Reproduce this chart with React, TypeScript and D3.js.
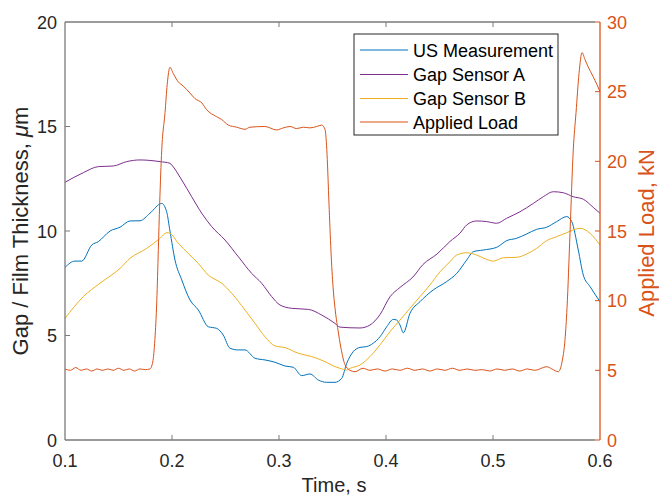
import React from "react";
import * as d3 from "d3";

// ---------- data ----------
const usMeasurement: [number, number][] = [
  [0.1, 8.26], [0.1093, 8.56], [0.1156, 8.56], [0.125, 9.33], [0.1311, 9.49], [0.1421, 10.0],
  [0.1514, 10.18], [0.1607, 10.48], [0.1701, 10.49], [0.1794, 10.85], [0.1904, 11.32], [0.195, 10.92],
  [0.1981, 10.0], [0.2028, 8.61], [0.2091, 7.66], [0.2168, 6.7], [0.2246, 6.22], [0.2339, 5.42],
  [0.2418, 5.34], [0.2479, 5.02], [0.2542, 4.39], [0.262, 4.31], [0.2682, 4.31], [0.2776, 3.91],
  [0.2869, 3.83], [0.2963, 3.72], [0.3056, 3.54], [0.3134, 3.48], [0.3212, 3.08], [0.329, 3.16],
  [0.3367, 2.87], [0.3446, 2.76], [0.3523, 2.76], [0.3586, 2.95], [0.3633, 3.67], [0.3694, 4.23],
  [0.3757, 4.43], [0.382, 4.47], [0.3881, 4.63], [0.3944, 4.94], [0.4007, 5.42], [0.4068, 5.77],
  [0.41, 5.74], [0.4131, 5.5], [0.4162, 5.13], [0.4224, 6.06], [0.4318, 6.62], [0.4442, 7.18],
  [0.4567, 7.58], [0.4661, 7.97], [0.4754, 8.61], [0.4816, 9.01], [0.4909, 9.09], [0.5035, 9.22],
  [0.5128, 9.54], [0.5221, 9.65], [0.5315, 9.86], [0.5408, 10.08], [0.5502, 10.18], [0.5595, 10.45],
  [0.5689, 10.69], [0.5736, 10.45], [0.5797, 9.09], [0.5844, 7.89], [0.5907, 7.34], [0.6, 6.62],
];

const gapSensorA: [number, number][] = [
  [0.1, 12.33], [0.1171, 12.79], [0.1311, 13.08], [0.1451, 13.11], [0.1577, 13.32], [0.1701, 13.4],
  [0.1888, 13.32], [0.1981, 13.24], [0.1997, 13.16], [0.2091, 12.44], [0.2184, 11.64], [0.2278, 10.85],
  [0.2371, 10.21], [0.2495, 9.57], [0.262, 8.77], [0.2745, 7.97], [0.2838, 7.5], [0.2932, 6.86],
  [0.3009, 6.46], [0.3119, 6.3], [0.3274, 6.25], [0.3399, 5.98], [0.3523, 5.58], [0.357, 5.4],
  [0.3757, 5.36], [0.385, 5.5], [0.3944, 6.0], [0.4037, 6.85], [0.4131, 7.3], [0.4252, 7.8],
  [0.4346, 8.4], [0.4477, 8.9], [0.4598, 9.5], [0.4692, 9.9], [0.4754, 10.29], [0.4848, 10.48],
  [0.4941, 10.45], [0.5035, 10.37], [0.5128, 10.61], [0.5252, 10.92], [0.5377, 11.32], [0.547, 11.64],
  [0.5564, 11.88], [0.5657, 11.83], [0.575, 11.64], [0.5844, 11.52], [0.5937, 11.13], [0.6, 10.85],
];

const gapSensorB: [number, number][] = [
  [0.1, 5.82], [0.1171, 6.86], [0.1327, 7.5], [0.1514, 8.21], [0.1607, 8.69], [0.1764, 9.17],
  [0.1888, 9.65], [0.195, 9.92], [0.1981, 9.89], [0.2059, 9.41], [0.2152, 8.93], [0.2246, 8.45],
  [0.2339, 7.89], [0.2464, 7.5], [0.2558, 7.02], [0.2682, 6.22], [0.2776, 5.58], [0.2869, 4.94],
  [0.2963, 4.5], [0.3056, 4.42], [0.318, 4.15], [0.3306, 3.99], [0.343, 3.75], [0.3523, 3.51],
  [0.357, 3.43], [0.3633, 3.35], [0.3664, 3.43], [0.3757, 3.59], [0.385, 3.99], [0.3944, 4.55],
  [0.4037, 5.18], [0.4131, 5.74], [0.4224, 6.3], [0.4318, 6.86], [0.4411, 7.42], [0.4505, 8.05],
  [0.4598, 8.53], [0.4661, 8.85], [0.4754, 8.96], [0.4848, 8.85], [0.4941, 8.64], [0.5003, 8.56],
  [0.5096, 8.72], [0.5221, 8.74], [0.5315, 8.9], [0.5408, 9.17], [0.5502, 9.54], [0.5595, 9.73],
  [0.5689, 9.92], [0.5813, 10.13], [0.5907, 9.89], [0.6, 9.33],
];

const appliedLoad: [number, number][] = [
  [0.1, 5.1], [0.105, 5.0], [0.11, 5.2], [0.115, 5.0], [0.12, 5.1], [0.125, 4.95], [0.13, 5.1],
  [0.135, 5.0], [0.14, 5.1], [0.145, 5.0], [0.15, 5.15], [0.155, 5.0], [0.16, 5.1], [0.165, 4.95],
  [0.17, 5.1], [0.175, 5.05], [0.1794, 5.1], [0.182, 5.6], [0.184, 7.2], [0.1858, 10], [0.1872, 13.6],
  [0.1885, 17], [0.1904, 20.8], [0.1935, 23.5], [0.1955, 25.5], [0.1981, 26.75], [0.2012, 26.3],
  [0.2059, 25.7], [0.2105, 25.4], [0.2168, 24.9], [0.2215, 24.5], [0.2278, 24.2], [0.2324, 23.7],
  [0.2418, 23.2], [0.2464, 23.0], [0.2527, 22.6], [0.2605, 22.45], [0.2682, 22.3], [0.2729, 22.45],
  [0.2868, 22.5], [0.2978, 22.25], [0.304, 22.4], [0.3103, 22.5], [0.3165, 22.35], [0.3228, 22.45],
  [0.329, 22.4], [0.3352, 22.5], [0.3399, 22.6], [0.343, 22.3], [0.3449, 20.5], [0.3467, 17],
  [0.3486, 13.5], [0.3505, 11], [0.3523, 9.5], [0.3551, 7.9], [0.3579, 6.6], [0.3617, 5.4],
  [0.3664, 5.0], [0.371, 4.9], [0.3785, 5.15], [0.385, 5.0], [0.392, 5.1], [0.399, 4.95],
  [0.406, 5.1], [0.413, 5.0], [0.42, 5.15], [0.427, 5.0], [0.434, 5.1], [0.441, 4.95], [0.448, 5.1],
  [0.455, 5.0], [0.462, 5.15], [0.469, 5.0], [0.476, 5.1], [0.483, 5.0], [0.49, 5.05], [0.497, 4.95],
  [0.504, 5.1], [0.511, 5.0], [0.518, 5.1], [0.525, 4.95], [0.532, 5.1], [0.539, 5.0], [0.5502, 5.26],
  [0.555, 5.1], [0.561, 4.9], [0.5645, 5.6], [0.5673, 7.2], [0.5692, 9.5], [0.572, 14.9], [0.575, 20.8],
  [0.5776, 23.5], [0.5804, 26.3], [0.5832, 27.8], [0.586, 27.3], [0.5888, 26.8], [0.5935, 26.1],
  [0.5972, 25.5], [0.6, 25.0],
];

const xTicks = [0.1, 0.2, 0.3, 0.4, 0.5, 0.6];
const yLeftTicks = [0, 5, 10, 15, 20];
const yRightTicks = [0, 5, 10, 15, 20, 25, 30];

const seriesNames = ["US Measurement", "Gap Sensor A", "Gap Sensor B", "Applied Load"];
const seriesColors = ["#0072BD", "#7E2F8E", "#EDB120", "#D95319"];

// ---------- layout ----------
const W = 659;
const H = 497;
const L = 65;
const R = 600;
const T = 22;
const B = 440;
const AXIS = "#262626";
const FRAME = "#7a7a7a";
const ORANGE = "#D95319";
const FONT = "'Liberation Sans', Arial, Helvetica, sans-serif";

export default function App() {
  const x = d3.scaleLinear().domain([0.1, 0.6]).range([L, R]);
  const yL = d3.scaleLinear().domain([0, 20]).range([B, T]);
  const yR = d3.scaleLinear().domain([0, 30]).range([B, T]);

  const lineL = d3
    .line<[number, number]>()
    .x((d) => x(d[0]))
    .y((d) => yL(d[1]))
    .curve(d3.curveMonotoneX);
  const lineR = d3
    .line<[number, number]>()
    .x((d) => x(d[0]))
    .y((d) => yR(d[1]))
    .curve(d3.curveMonotoneX);

  const tick = 5;
  const legX = 354;
  const legY = 34;
  const legW = 204;
  const legH = 101;
  const legRows = [50, 74.5, 98.5, 122];

  return (
    <svg
      width={W}
      height={H}
      style={{ position: "absolute", left: 0, top: 0, background: "#fff" }}
      fontFamily={FONT}
    >
      <rect x={0} y={0} width={W} height={H} fill="#fff" />
      {/* data lines */}
      <path d={lineL(usMeasurement) || ""} fill="none" stroke={seriesColors[0]} strokeWidth={1} />
      <path d={lineL(gapSensorA) || ""} fill="none" stroke={seriesColors[1]} strokeWidth={1} />
      <path d={lineL(gapSensorB) || ""} fill="none" stroke={seriesColors[2]} strokeWidth={1} />
      <path d={lineR(appliedLoad) || ""} fill="none" stroke={seriesColors[3]} strokeWidth={1} />

      {/* frame: left, bottom, top */}
      <line x1={L} y1={T} x2={L} y2={B} stroke={FRAME} strokeWidth={1.3} />
      <line x1={L} y1={B} x2={R - 5} y2={B} stroke={FRAME} strokeWidth={1.3} />
      <line x1={L} y1={T} x2={R - 5} y2={T} stroke={FRAME} strokeWidth={1.3} />
      {/* right axis */}
      <line x1={R} y1={T} x2={R} y2={B} stroke={ORANGE} strokeWidth={1.3} />

      {/* x ticks */}
      {xTicks.map((t) => (
        <g key={"x" + t}>
          {t > 0.1 && t < 0.6 && (
            <>
              <line x1={x(t)} x2={x(t)} y1={B} y2={B - tick} stroke={FRAME} strokeWidth={1} />
              <line x1={x(t)} x2={x(t)} y1={T} y2={T + tick} stroke={FRAME} strokeWidth={1} />
            </>
          )}
          <text x={x(t)} y={467} textAnchor="middle" fontSize={18} fill={AXIS}>
            {t.toFixed(1)}
          </text>
        </g>
      ))}

      {/* left y ticks */}
      {yLeftTicks.map((v) => (
        <g key={"yl" + v}>
          {v > 0 && v < 20 && (
            <line x1={L} x2={L + tick} y1={yL(v)} y2={yL(v)} stroke={FRAME} strokeWidth={1} />
          )}
          <text x={57} y={yL(v) + 6.5} textAnchor="end" fontSize={18} fill={AXIS}>
            {v}
          </text>
        </g>
      ))}

      {/* right y ticks */}
      {yRightTicks.map((v) => (
        <g key={"yr" + v}>
          <line x1={R} x2={R - tick} y1={yR(v)} y2={yR(v)} stroke={ORANGE} strokeWidth={1} />
          <text x={607} y={yR(v) + 6.5} textAnchor="start" fontSize={18} fill={ORANGE}>
            {v}
          </text>
        </g>
      ))}

      {/* axis labels */}
      <text x={334} y={492} textAnchor="middle" fontSize={20} fill={AXIS}>
        Time, s
      </text>
      <text
        transform={`translate(28, ${(T + B) / 2}) rotate(-90)`}
        textAnchor="middle"
        fontSize={22}
        fill={AXIS}
      >
        Gap / Film Thickness, <tspan fontStyle="italic">μ</tspan>m
      </text>
      <text
        transform={`translate(654, ${(T + B) / 2 + 2}) rotate(-90)`}
        textAnchor="middle"
        fontSize={22}
        fill={ORANGE}
      >
        Applied Load, kN
      </text>

      {/* legend */}
      <rect x={legX} y={legY} width={legW} height={legH} fill="#fff" stroke={AXIS} strokeWidth={1} />
      {seriesNames.map((name, i) => (
        <g key={name}>
          <line x1={360} x2={408} y1={legRows[i]} y2={legRows[i]} stroke={seriesColors[i]} strokeWidth={1} />
          <text x={413} y={legRows[i] + 6.5} fontSize={18} fill="#000">
            {name}
          </text>
        </g>
      ))}
    </svg>
  );
}
